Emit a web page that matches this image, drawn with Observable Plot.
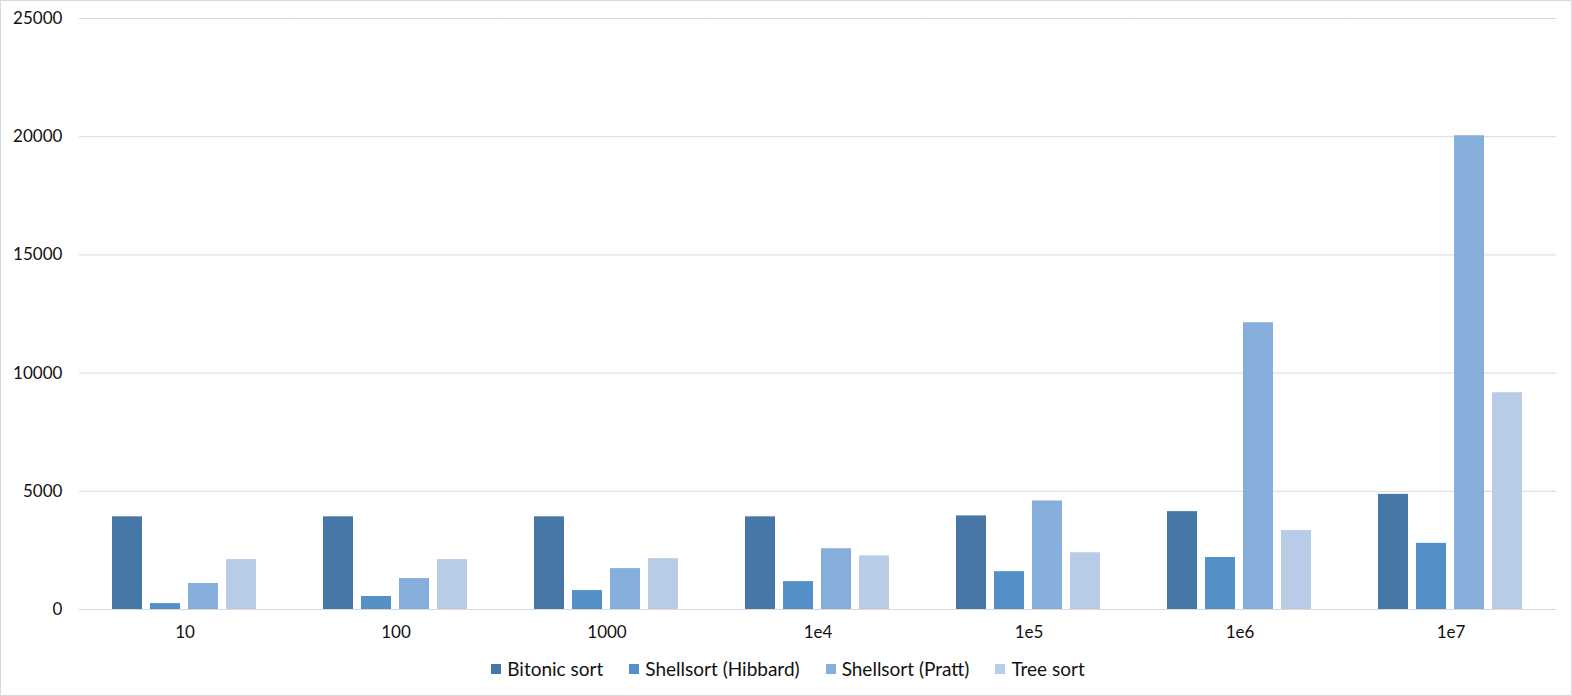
<!DOCTYPE html>
<html>
<head>
<meta charset="utf-8">
<script src="https://cdn.jsdelivr.net/npm/d3@7"></script>
<script src="https://cdn.jsdelivr.net/npm/@observablehq/plot@0.6"></script>
<style>
  html, body { margin: 0; padding: 0; background: #fff; }
  #wrap { width: 1572px; height: 696px; box-sizing: border-box; border: 1px solid #d9d9d9; position: relative; overflow: hidden; background: #fff; font-family: Lato, "Open Sans", sans-serif; }
  #chart svg { display: block; }
  #legend { position: absolute; left: 0; right: 0; top: 656px; display: flex; justify-content: center; gap: 26px; font-size: 19px; color: #111; padding-left: 4px; }
  .item { display: flex; align-items: center; gap: 6px; }
  .sw { width: 10px; height: 10px; display: inline-block; }
</style>
</head>
<body>
<div id="wrap">
  <div id="chart"></div>
  <div id="legend"></div>
</div>
<script>
const categories = ["10", "100", "1000", "1e4", "1e5", "1e6", "1e7"];
const series = ["Bitonic sort", "Shellsort (Hibbard)", "Shellsort (Pratt)", "Tree sort"];
const colors = ["#4677a7", "#5490c8", "#86aedb", "#b8cce7"];
const bitonic = [3920, 3920, 3920, 3920, 3960, 4140, 4870];
const hibbard = [250, 550, 800, 1180, 1600, 2200, 2800];
const pratt = [1100, 1310, 1730, 2570, 4590, 12130, 20040];
const tree = [2110, 2110, 2150, 2270, 2400, 3340, 9170];
const yTicks = [0, 5000, 10000, 15000, 20000, 25000];

const valuesBySeries = [bitonic, hibbard, pratt, tree];
const data = [];
categories.forEach((c, i) => {
  series.forEach((s, j) => data.push({ category: c, series: s, value: valuesBySeries[j][i] }));
});

const W = 1570, ML = 77, MR = 14;
const step = (W - ML - MR) / categories.length;
const pIn = 0.313;
const half = step * pIn / 2;

const chart = Plot.plot({
  width: W,
  height: 648,
  marginLeft: ML,
  marginRight: MR,
  marginTop: 17,
  marginBottom: 40,
  style: { fontFamily: "Lato, 'Open Sans', sans-serif", fontSize: "17px", color: "#111", background: "#fff" },
  fx: { domain: categories, paddingInner: pIn, paddingOuter: pIn / 2, label: null, tickSize: 0, tickPadding: 16 },
  x: { domain: series, paddingInner: 0.21, paddingOuter: 0, axis: null },
  y: { domain: [0, 25000], ticks: yTicks, label: null, axis: null },
  color: { domain: series, range: colors },
  marks: [
    Plot.ruleY(yTicks, { stroke: "#d9d9d9", strokeWidth: 1, strokeOpacity: 1, insetLeft: -half, insetRight: -half }),
    Plot.barY(data, { fx: "category", x: "series", y: "value", fill: "series" }),
    Plot.axisY({ ticks: yTicks, tickSize: 0, tickPadding: 17 + half, tickFormat: d => String(d), label: null, fontSize: 17 })
  ]
});
document.getElementById("chart").appendChild(chart);

const legend = document.getElementById("legend");
series.forEach((s, j) => {
  const it = document.createElement("div");
  it.className = "item";
  const sw = document.createElement("span");
  sw.className = "sw";
  sw.style.background = colors[j];
  const t = document.createElement("span");
  t.textContent = s;
  it.appendChild(sw);
  it.appendChild(t);
  legend.appendChild(it);
});
</script>
</body>
</html>
